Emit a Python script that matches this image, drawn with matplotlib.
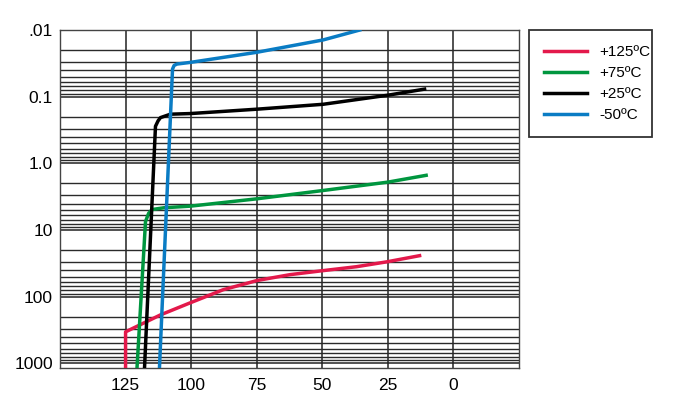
import numpy as np
import matplotlib
matplotlib.use("Agg")
import matplotlib.pyplot as plt
from matplotlib.ticker import LogLocator, FixedLocator, NullFormatter

plt.rcParams["font.family"] = ["Liberation Sans", "DejaVu Sans"]

# curves: (temperature axis value, log-axis value)
red_x = [125, 125, 111.7, 100.3, 87.8, 74.8, 62.3, 49.8, 36.9, 25.1, 12.9]
red_y = [1500, 336, 187, 123, 78.5, 57, 46.6, 40.6, 35.4, 29.8, 24.2]

green_x = [120.8, 117.4, 116.2, 114.9, 110.4, 100.3, 75, 49.7, 25, 10.4]
green_y = [1500, 7.45, 5.6, 4.92, 4.63, 4.38, 3.40, 2.55, 1.91, 1.51]

black_x = [117.9, 113.6, 112.6, 111.7, 107.9, 100.3, 75, 49.7, 25, 11]
black_y = [1500, 0.278, 0.23, 0.206, 0.183, 0.179, 0.154, 0.130, 0.095, 0.077]

blue_x = [112.2, 107.1, 106.5, 105.4, 100.3, 75, 49.7, 35.7]
blue_y = [1500, 0.0386, 0.034, 0.0324, 0.0306, 0.0216, 0.0141, 0.010]

labels = ["+125ºC", "+75ºC", "+25ºC", "-50ºC"]
colors = ["#e3194b", "#00963f", "#000000", "#0a7cc4"]

x_ticks = [125, 100, 75, 50, 25, 0]
y_ticks = [0.01, 0.1, 1, 10, 100, 1000]
y_tick_labels = [".01", "0.1", "1.0", "10", "100", "1000"]

fig = plt.figure(figsize=(6.74, 3.94), dpi=100)
ax = fig.add_axes([60 / 674, 26 / 394, 459 / 674, 338 / 394])

series = [(red_x, red_y), (green_x, green_y), (black_x, black_y), (blue_x, blue_y)]
for (xs, ys), lab, col in zip(series, labels, colors):
    ax.plot(xs, ys, color=col, lw=2.5, label=lab, solid_joinstyle="round", zorder=3)

ax.set_yscale("log")
ax.set_xlim(150, -25)
ax.set_ylim(1170, 0.01)

ax.yaxis.set_major_locator(FixedLocator(y_ticks))
ax.set_yticklabels(y_tick_labels)
ax.yaxis.set_minor_locator(LogLocator(base=10, subs=np.arange(2, 10), numticks=20))
ax.yaxis.set_minor_formatter(NullFormatter())
ax.set_xticks(x_ticks)
ax.set_xticklabels([str(t) for t in x_ticks])

ax.grid(True, which="major", axis="both", color="#222222", lw=1.1)
ax.grid(True, which="minor", axis="y", color="#2a2a2a", lw=1.0)
ax.tick_params(which="both", length=0, labelsize=12.5)
ax.tick_params(axis="x", pad=7)
ax.tick_params(axis="y", pad=5)
for s in ax.spines.values():
    s.set_color("#444444")
    s.set_linewidth(1.0)

leg = ax.legend(loc="upper left", bbox_to_anchor=(529 / 674, 1 - 132 / 394, 123 / 674, 102 / 394),
                bbox_transform=fig.transFigure, mode="expand", fancybox=False,
                frameon=True, fontsize=11, handlelength=2.8, handletextpad=0.8,
                labelspacing=0.45, borderaxespad=0, borderpad=1.0)
leg.get_frame().set_edgecolor("black")
leg.get_frame().set_linewidth(1.3)

fig.savefig("out.png", dpi=100)
